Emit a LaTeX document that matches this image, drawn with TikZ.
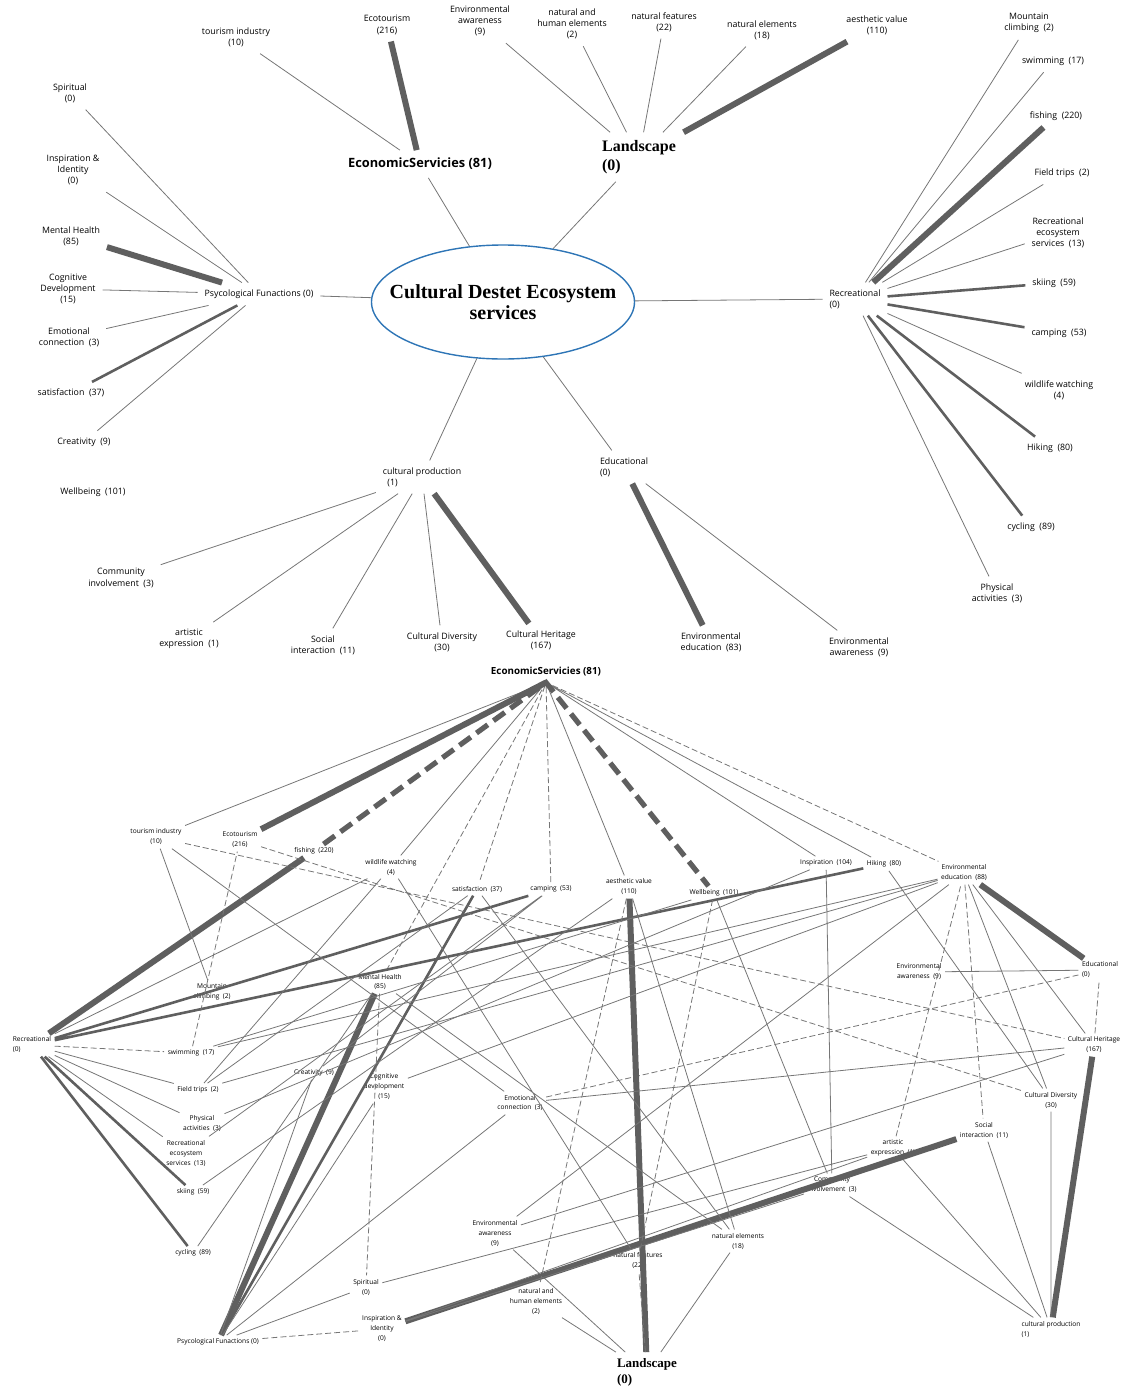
\documentclass[tikz,border=0pt]{standalone}
\usepackage{fontspec}
\setmainfont{Open Sans}
\newfontfamily\tnr{Liberation Serif}
\usepackage{tikz}
\usetikzlibrary{shapes.geometric}

\definecolor{dgray}{RGB}{95,95,95}
\definecolor{lgray}{RGB}{118,118,118}
\definecolor{rim}{RGB}{46,117,182}

\begin{document}
\begin{tikzpicture}[x=0.5pt,y=-0.5pt,
  lbl/.style={font=\fontsize{4.4}{5.6}\selectfont,align=center,inner sep=0.5pt,outer sep=3pt},
  sm/.style={font=\fontsize{3.3}{5}\selectfont,align=center,inner sep=0.3pt,outer sep=1.5pt},
  hub/.style={font=\bfseries\fontsize{6.4}{7.5}\selectfont,inner sep=1pt,outer sep=3pt},
  bhub/.style={font=\bfseries\fontsize{4.9}{6}\selectfont,inner sep=1pt,outer sep=2pt},
  land/.style={font=\tnr\bfseries\fontsize{8}{9.5}\selectfont,align=left,inner sep=1pt,outer sep=3pt},
  bland/.style={font=\tnr\bfseries\fontsize{6.5}{8}\selectfont,align=left,inner sep=1pt,outer sep=2pt},
  tn/.style={draw=lgray,line width=0.4pt},
  tnd/.style={draw=lgray,line width=0.4pt,dash pattern=on 3pt off 1.5pt},
  md/.style={draw=dgray,line width=1.3pt},
  tk/.style={draw=dgray,line width=3pt},
  tkd/.style={draw=dgray,line width=2.6pt,dash pattern=on 7pt off 3.5pt}]
  \useasboundingbox (0,0) rectangle (1128,1387);

  % radial part
  \node[ellipse,draw=rim,line width=0.7pt,minimum width=131.5pt,minimum height=57pt,inner sep=0pt] (core) at (503,302) {};
  \node[font=\tnr\bfseries\fontsize{10}{10.5}\selectfont,align=center] (coretext) at (503,302) {Cultural Destet Ecosystem\\services};
  \node[hub] (econ) at (420,164) {EconomicServicies (81)};
  \node[land] (land) at (639,157) {Landscape\\(0)};
  \node[lbl] (psy) at (259,294) {Psycological Funactions (0)};
  \node[lbl,align=left] (rec) at (855,299) {Recreational\\(0)};
  \node[lbl,align=left] (cprod) at (422,477) {cultural production\\\ \ (1)};
  \node[lbl,align=left] (edu) at (624,467) {Educational\\(0)};

  \node[lbl] (tour) at (236,37) {tourism industry\\(10)};
  \node[lbl] (ecot) at (387,25) {Ecotourism\\(216)};
  \node[lbl] (envawA) at (480,21) {Environmental\\awareness\\(9)};
  \node[lbl] (nathum) at (572,24) {natural and\\human elements\\(2)};
  \node[lbl] (natfeat) at (664,22) {natural features\\(22)};
  \node[lbl] (natel) at (762,30) {natural elements\\(18)};
  \node[lbl] (aes) at (877,25) {aesthetic value\\(110)};

  \node[lbl] (spir) at (70,93) {Spiritual\\(0)};
  \node[lbl] (inspid) at (73,170) {Inspiration \&\\Identity\\(0)};
  \node[lbl] (ment) at (71,236) {Mental Health\\(85)};
  \node[lbl] (cog) at (68,289) {Cognitive\\Development\\(15)};
  \node[lbl] (emo) at (69,337) {Emotional\\connection\ \ (3)};
  \node[lbl] (sat) at (71,393) {satisfaction\ \ (37)};
  \node[lbl] (cre) at (84,442) {Creativity\ \ (9)};
  \node[lbl] (well) at (93,492) {Wellbeing\ \ (101)};

  \node[lbl] (mtn) at (1029,23) {Mountain\\climbing\ \ (2)};
  \node[lbl] (swim) at (1053,61) {swimming\ \ (17)};
  \node[lbl] (fish) at (1056,116) {fishing\ \ (220)};
  \node[lbl] (field) at (1062,173) {Field trips\ \ (2)};
  \node[lbl] (reseco) at (1058,233) {Recreational\\ecosystem\\services\ \ (13)};
  \node[lbl] (ski) at (1054,283) {skiing\ \ (59)};
  \node[lbl] (camp) at (1059,333) {camping\ \ (53)};
  \node[lbl] (wild) at (1059,390) {wildlife watching\\(4)};
  \node[lbl] (hike) at (1050,448) {Hiking\ \ (80)};
  \node[lbl] (cyc) at (1031,527) {cycling\ \ (89)};
  \node[lbl] (phys) at (997,593) {Physical\\activities\ \ (3)};

  \node[lbl] (comm) at (121,578) {Community\\involvement\ \ (3)};
  \node[lbl] (art) at (189,639) {artistic\\expression\ \ (1)};
  \node[lbl] (soc) at (323,645) {Social\\interaction\ \ (11)};
  \node[lbl] (cdiv) at (442,642) {Cultural Diversity\\(30)};
  \node[lbl] (cher) at (541,640) {Cultural Heritage\\(167)};
  \node[lbl] (envedu) at (711,642) {Environmental\\education\ \ (83)};
  \node[lbl] (envawB) at (859,647) {Environmental\\awareness\ \ (9)};

  \draw[tn] (econ) -- (core) -- (land) (psy) -- (core) -- (rec) (cprod) -- (core) -- (edu);
  \draw[tn] (tour) -- (econ);
  \draw[tk] (ecot) -- (econ);
  \draw[tn] (envawA) -- (land) -- (nathum) (natfeat) -- (land) -- (natel);
  \draw[tk] (aes) -- (land);
  \draw[tn] (spir) -- (psy) -- (inspid) (cog) -- (psy) -- (emo) (cre) -- (psy);
  \draw[tk] (ment) -- (psy);
  \draw[md] (sat) -- (psy);
  \draw[tn] (mtn) -- (rec) -- (swim) (field) -- (rec) -- (reseco) (wild) -- (rec) -- (phys);
  \draw[tk] (fish) -- (rec);
  \draw[md] (ski) -- (rec) -- (camp) (hike) -- (rec) -- (cyc);
  \draw[tn] (comm) -- (cprod) -- (art) (soc) -- (cprod) -- (cdiv);
  \draw[tk] (cher) -- (cprod);
  \draw[tk] (envedu) -- (edu);
  \draw[tn] (envawB) -- (edu);

  % network part
  \node[bhub] (bEcon) at (546,672) {EconomicServicies (81)};
  \node[bland] (bland) at (647,1372) {Landscape\\(0)};
  \node[sm] (btour) at (156,837) {tourism industry\\(10)};
  \node[sm] (becot) at (240,840) {Ecotourism\\(216)};
  \node[sm] (bfish) at (314,851) {fishing\ \ (220)};
  \node[sm] (bwild) at (391,867) {wildlife watching\\(4)};
  \node[sm] (bsat) at (477,889) {satisfaction\ \ (37)};
  \node[sm] (bcamp) at (551,889) {camping\ \ (53)};
  \node[sm] (baes) at (629,887) {aesthetic value\\(110)};
  \node[sm] (bwell) at (714,893) {Wellbeing\ \ (101)};
  \node[sm] (bins) at (826,863) {Inspiration\ \ (104)};
  \node[sm] (bhike) at (884,864) {Hiking\ \ (80)};
  \node[sm] (benvedu) at (964,873) {Environmental\\education\ \ (88)};
  \node[sm] (benvaw) at (919,972) {Environmental\\awareness\ \ (9)};
  \node[sm,align=left] (bedu) at (1100,970) {Educational\\(0)};
  \node[sm] (bcher) at (1094,1045) {Cultural Heritage\\(167)};
  \node[sm] (bmtn) at (212,992) {Mountain\\climbing\ \ (2)};
  \node[sm] (bment) at (380,982) {Mental Health\\(85)};
  \node[sm,align=left] (brec) at (32,1045) {Recreational\\(0)};
  \node[sm] (bswim) at (191,1053) {swimming\ \ (17)};
  \node[sm] (bcre) at (314,1073) {Creativity\ \ (9)};
  \node[sm] (bfield) at (198,1090) {Field trips\ \ (2)};
  \node[sm] (bcog) at (384,1087) {Cognitive\\development\\(15)};
  \node[sm] (bphys) at (202,1123) {Physical\\activities\ \ (3)};
  \node[sm] (breseco) at (186,1153) {Recreational\\ecosystem\\services\ \ (13)};
  \node[sm] (bemo) at (520,1103) {Emotional\\connection\ \ (3)};
  \node[sm] (bski) at (193,1192) {skiing\ \ (59)};
  \node[sm] (bcyc) at (193,1253) {cycling\ \ (89)};
  \node[sm] (benvaw2) at (495,1233) {Environmental\\awareness\\(9)};
  \node[sm] (bspir) at (366,1287) {Spiritual\\(0)};
  \node[sm] (binsid) at (382,1329) {Inspiration \&\\Identity\\(0)};
  \node[sm] (bpsy) at (218,1342) {Psycological Funactions (0)};
  \node[sm] (bnathum) at (536,1301) {natural and\\human elements\\(2)};
  \node[sm] (bnatfeat) at (638,1260) {natural features\\(22)};
  \node[sm] (bnatel) at (738,1241) {natural elements\\(18)};
  \node[sm] (bcomm) at (832,1185) {Community\\involvement\ \ (3)};
  \node[sm] (bart) at (893,1148) {artistic\\expression\ \ (1)};
  \node[sm] (bsoc) at (984,1130) {Social\\interaction\ \ (11)};
  \node[sm] (bcdiv) at (1051,1100) {Cultural Diversity\\(30)};
  \node[sm,align=left] (bcprod) at (1051,1329) {cultural production\\(1)};

  \draw[tn] (btour) -- (bEcon.south) -- (bwild) (baes) -- (bEcon.south) -- (bins) (bEcon.south) -- (bhike);
  \draw[tnd] (bment) -- (bEcon.south) -- (bsat) (bcamp) -- (bEcon.south) -- (benvedu);
  \draw[tk] (bEcon.south) -- (becot);
  \draw[tkd] (bfish) -- (bEcon.south) -- (bwell);

  \draw[tk] (brec) -- (bfish);
  \draw[md] (bcamp) -- (brec) -- (bhike) (bski) -- (brec) -- (bcyc);
  \draw[tn] (bfield) -- (brec) -- (bphys) (breseco) -- (brec) -- (bwild);
  \draw[tnd] (brec) -- (bswim);

  \draw[tk] (bpsy) -- (bment);
  \draw[md] (bpsy) -- (bsat);
  \draw[tn] (bcre) -- (bpsy) -- (bcog) (bemo) -- (bpsy) -- (bspir);
  \draw[tnd] (bpsy) -- (binsid);

  \draw[tk] (bedu) -- (benvedu);
  \draw[tn] (bedu) -- (benvaw);
  \draw[tnd] (bcher) -- (bedu) -- (bemo);

  \draw[tk] (bcprod) -- (bcher);
  \draw[tn] (bcdiv) -- (bcprod) -- (bsoc) (bart) -- (bcprod) -- (bcomm);

  \draw[tk] (bland) -- (baes);
  \draw[tn] (bnatel) -- (bland) -- (bnathum) (bland) -- (benvaw2);
  \draw[tnd] (bland) -- (bnatfeat);

  \draw[tk] (binsid) -- (bsoc);
  \draw[tn] (bcomm) -- (binsid) -- (bart);
  \draw[tn] (bmtn) -- (btour) -- (bemo);
  \draw[tnd] (btour) -- (bcher) (bswim) -- (becot) -- (bcdiv);
  \draw[tn] (bnatfeat) -- (bwild) -- (bfield) -- (bsat) -- (bnatel) -- (bment) -- (bcyc);
  \draw[tnd] (bment) -- (bspir);
  \draw[tn] (breseco) -- (bcamp) -- (bcre);
  \draw[tn] (bski) -- (baes) -- (bnatel);
  \draw[tnd] (baes) -- (bnathum);
  \draw[tn] (bswim) -- (bwell) -- (bcomm) -- (bins) -- (bphys);
  \draw[tnd] (bwell) -- (bnatfeat);
  \draw[tn] (bhike) -- (bcdiv);
  \draw[tn] (bswim) -- (benvedu) -- (bfield) (benvaw2) -- (benvedu) -- (bcog) (bcdiv) -- (benvedu) -- (bcher);
  \draw[tnd] (bart) -- (benvedu) -- (bsoc);
  \draw[tn] (bemo) -- (bcher) -- (benvaw2) (bspir) -- (bart);
\end{tikzpicture}
\end{document}
